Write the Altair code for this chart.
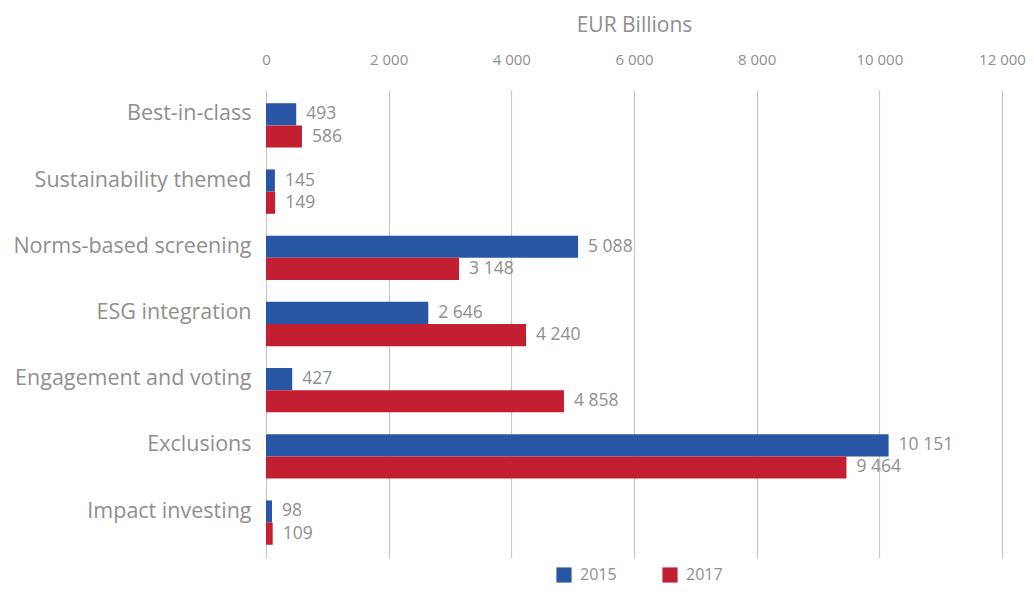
import altair as alt
import pandas as pd

categories = ["Best-in-class", "Sustainability themed", "Norms-based screening",
              "ESG integration", "Engagement and voting", "Exclusions", "Impact investing"]
years = ["2015", "2017"]
values_2015 = [493, 145, 5088, 2646, 427, 10151, 98]
values_2017 = [586, 149, 3148, 4240, 4858, 9464, 109]
x_ticks = [0, 2000, 4000, 6000, 8000, 10000, 12000]

rows = []
for c, a, b in zip(categories, values_2015, values_2017):
    rows.append({"category": c, "year": "2015", "value": a})
    rows.append({"category": c, "year": "2017", "value": b})
df = pd.DataFrame(rows)

FONT = "Open Sans"
GRAY = "#8f8f8f"
colors = ["#2856A4", "#C21F33"]

y_enc = alt.Y("category:N", sort=categories, title=None,
              scale=alt.Scale(paddingInner=0.33),
              axis=alt.Axis(domain=False, ticks=False, labelFontSize=21.5, labelColor=GRAY,
                            labelFont=FONT, labelPadding=15, labelLimit=400, labelOffset=-11))
yoff = alt.YOffset("year:N", sort=years)

base = alt.Chart(df)
bars = base.mark_bar().encode(
    y=y_enc,
    yOffset=yoff,
    x=alt.X("value:Q", title="EUR Billions",
            scale=alt.Scale(domain=[0, 12000], nice=False),
            axis=alt.Axis(orient="top", values=x_ticks, domain=False, ticks=False,
                          labelFlush=False,
                          labelExpr="replace(format(datum.value, ','), ',', ' ')",
                          labelFontSize=15, labelColor=GRAY, labelFont=FONT, labelPadding=23,
                          titleFontSize=21, titleColor=GRAY, titleFont=FONT,
                          titleFontWeight="normal", titlePadding=17,
                          grid=True, gridColor="#c8c8c8", gridWidth=1.2)),
    color=alt.Color("year:N", sort=years, scale=alt.Scale(domain=years, range=colors),
                    legend=alt.Legend(title=None, orient="none", direction="horizontal",
                                      legendX=290, legendY=477, symbolType="square",
                                      symbolSize=230, symbolStrokeWidth=0, symbolOpacity=1,
                                      labelFontSize=16, labelColor=GRAY, labelFont=FONT,
                                      columnPadding=45, labelOffset=8)),
)

labels = base.transform_calculate(
    lbl="replace(format(datum.value, ','), ',', ' ')"
).mark_text(align="left", baseline="middle", dx=10, fontSize=17.5, color=GRAY, font=FONT).encode(
    y=alt.Y("category:N", sort=categories),
    yOffset=yoff,
    x="value:Q",
    text="lbl:N",
)

chart = (bars + labels).properties(
    width=736, height=468,
    autosize=alt.AutoSizeParams(type="none"),
    padding={"left": 258, "top": 82, "right": 24, "bottom": 29},
).configure_view(stroke=None)

chart.save("out.html", embed_options={"renderer": "svg", "actions": False})
